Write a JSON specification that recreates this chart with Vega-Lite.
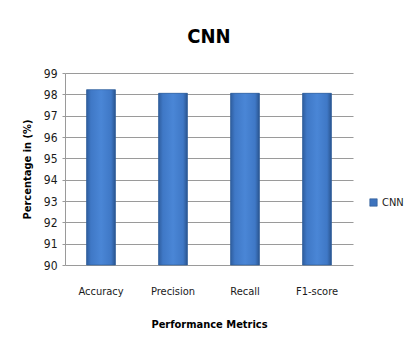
{
  "$schema": "https://vega.github.io/schema/vega-lite/v6.json",
  "width": 288,
  "height": 192,
  "autosize": {"type": "none"},
  "padding": {"left": 65, "top": 73, "right": 54, "bottom": 86},
  "background": "white",
  "title": {
    "text": "CNN",
    "font": "DejaVu Sans Condensed",
    "fontSize": 20,
    "fontWeight": "bold",
    "color": "#000000",
    "anchor": "middle",
    "offset": 20
  },
  "data": {
    "values": [
      {"metric": "Accuracy", "value": 98.22, "model": "CNN"},
      {"metric": "Precision", "value": 98.05, "model": "CNN"},
      {"metric": "Recall", "value": 98.05, "model": "CNN"},
      {"metric": "F1-score", "value": 98.05, "model": "CNN"}
    ]
  },
  "encoding": {
    "x": {
      "field": "metric",
      "type": "nominal",
      "sort": null,
      "scale": {"paddingInner": 0.6, "paddingOuter": 0.3},
      "axis": {
        "title": "Performance Metrics",
        "labelAngle": 0,
        "ticks": false,
        "domain": false,
        "labelPadding": 20,
        "titlePadding": 22
      }
    },
    "y": {
      "field": "value",
      "type": "quantitative",
      "scale": {"domain": [90, 99], "zero": false, "nice": false},
      "axis": {
        "title": "Percentage in (%)",
        "values": [90, 91, 92, 93, 94, 95, 96, 97, 98, 99],
        "tickSize": 3,
        "labelPadding": 5,
        "labelFontSize": 12,
        "titlePadding": 11
      }
    }
  },
  "layer": [
    {
      "mark": {"type": "bar", "clip": true},
      "encoding": {
        "y2": {"datum": 90},
        "color": {
          "field": "model",
          "type": "nominal",
          "scale": {"range": ["#3d73bd"]},
          "legend": {
            "title": null,
            "orient": "none",
            "legendX": 303,
            "legendY": 124,
            "symbolType": "square",
            "symbolSize": 55,
            "symbolStrokeColor": "#2a568f",
            "symbolStrokeWidth": 0.6,
            "labelFont": "DejaVu Sans Condensed",
            "labelFontSize": 11,
            "labelColor": "#1a1a1a",
            "labelOffset": 3
          }
        }
      }
    },
    {
      "mark": {
        "type": "bar",
        "stroke": "#2d5a93",
        "strokeWidth": 0.6,
        "fill": {
          "gradient": "linear",
          "x1": 0, "y1": 0, "x2": 1, "y2": 0,
          "stops": [
            {"offset": 0, "color": "#2f5e9f"},
            {"offset": 0.15, "color": "#3f78c6"},
            {"offset": 0.5, "color": "#4a86d6"},
            {"offset": 0.85, "color": "#3f78c6"},
            {"offset": 1, "color": "#2a5590"}
          ]
        }
      },
      "encoding": {"y2": {"datum": 90}}
    }
  ],
  "config": {
    "font": "DejaVu Sans Condensed",
    "view": {"stroke": null},
    "axis": {
      "labelFont": "DejaVu Sans Condensed",
      "labelFontSize": 11,
      "labelColor": "#1a1a1a",
      "titleFont": "DejaVu Sans Condensed",
      "titleFontSize": 11,
      "titleFontWeight": "bold",
      "titleColor": "#000000",
      "gridColor": "#9a9a9a",
      "gridWidth": 1.2,
      "gridOpacity": 1,
      "domainColor": "#9a9a9a",
      "tickColor": "#9a9a9a"
    },
    "axisX": {"grid": false},
    "axisY": {"grid": true}
  }
}
